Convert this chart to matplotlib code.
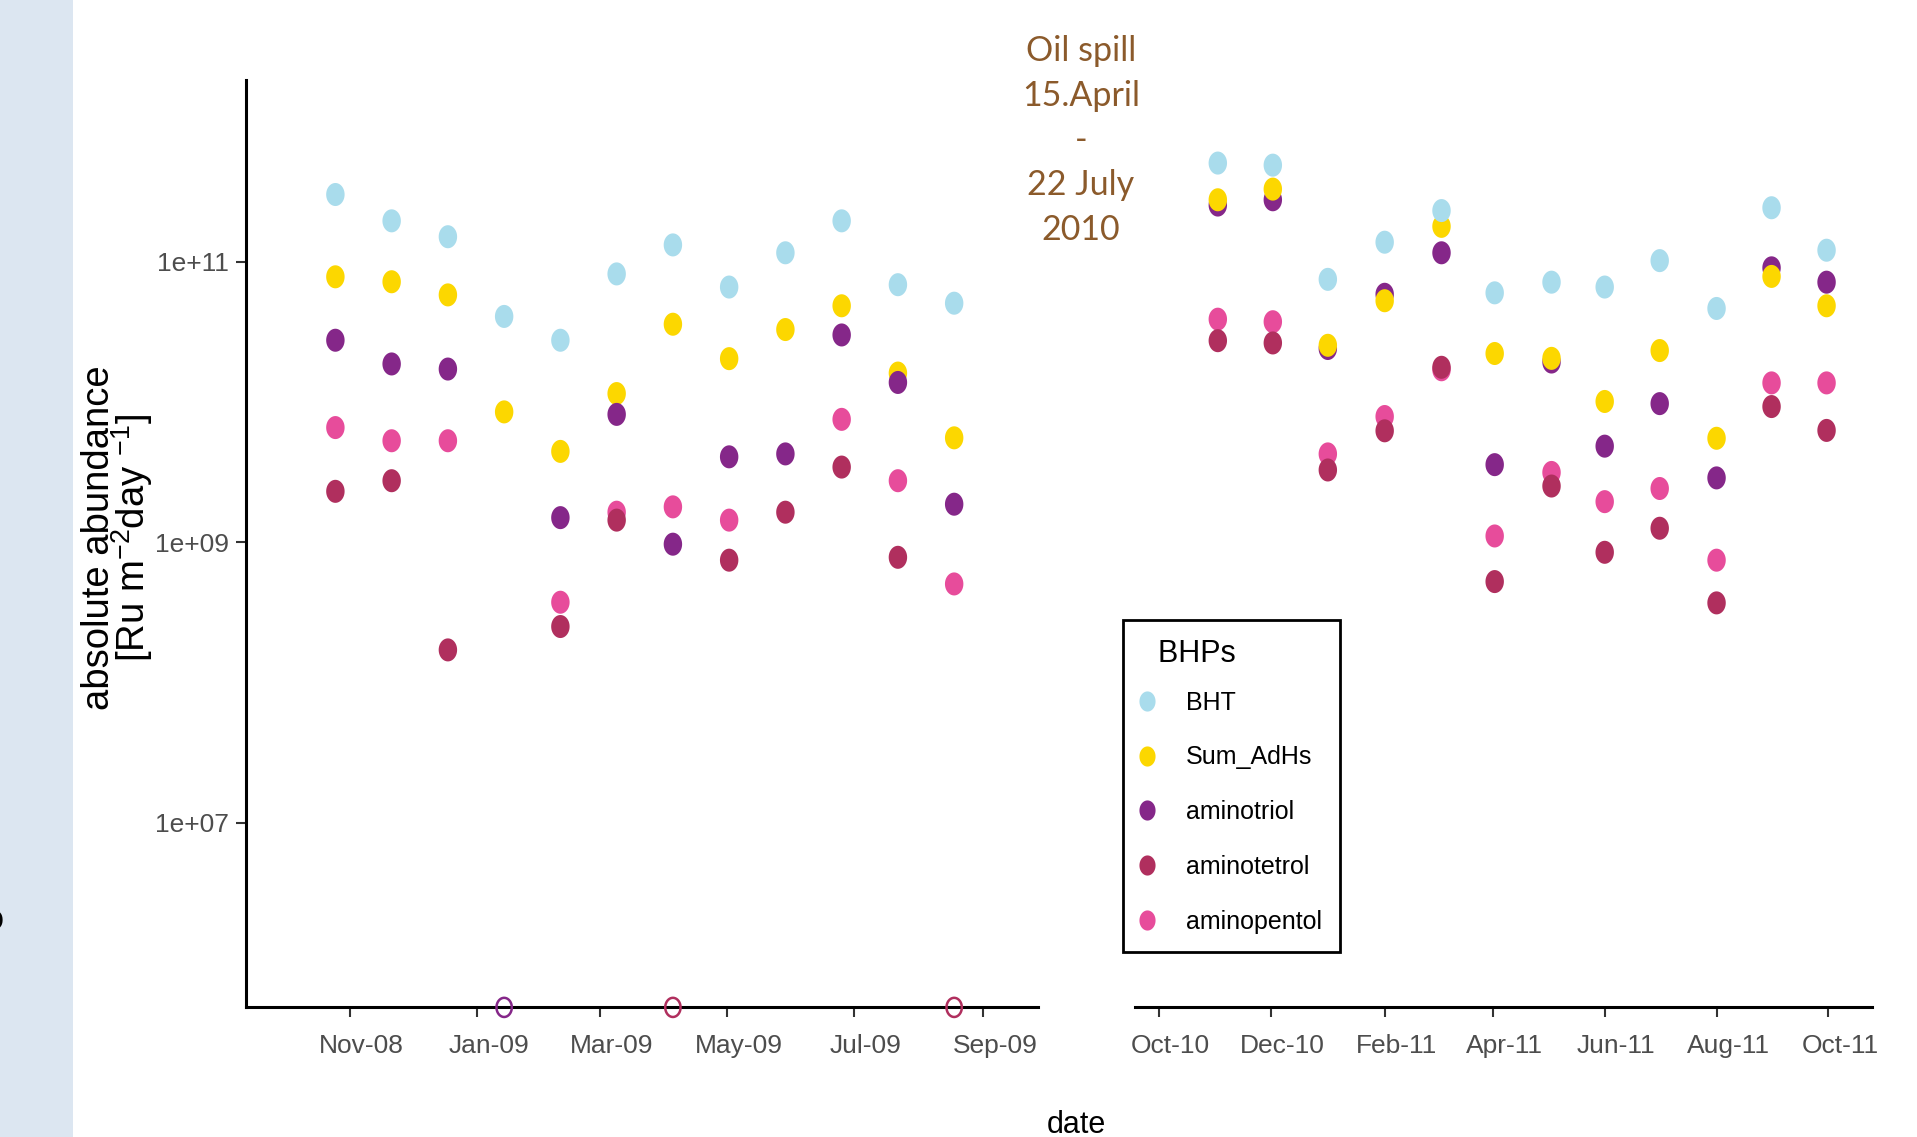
import numpy as np
import matplotlib
matplotlib.use("Agg")
import matplotlib.pyplot as plt
import matplotlib.dates as mdates
import matplotlib.transforms as mtransforms
from matplotlib.path import Path
from matplotlib.lines import Line2D
from matplotlib.patches import Rectangle
from matplotlib.ticker import FixedLocator, FixedFormatter, NullLocator
import datetime as dt

# ---------------- data ----------------
series = ["BHT", "Sum_AdHs", "aminotriol", "aminotetrol", "aminopentol"]
series_colors = ["#a9dcec", "#fcd700", "#852789", "#b02f5e", "#e74c9b"]

dates_0809 = ["2008-10-25", "2008-11-21", "2008-12-18", "2009-01-14", "2009-02-10", "2009-03-09",
              "2009-04-05", "2009-05-02", "2009-05-29", "2009-06-25", "2009-07-22", "2009-08-18"]
bht_0809 = [3.02e11, 1.96e11, 1.51e11, 4.08e10, 2.76e10, 8.20e10, 1.32e11, 6.61e10, 1.16e11, 1.96e11, 6.87e10, 5.07e10]
adhs_0809 = [7.82e10, 7.21e10, 5.81e10, 8.51e9, 4.45e9, 1.15e10, 3.59e10, 2.04e10, 3.29e10, 4.86e10, 1.61e10, 5.56e9]
triol_0809 = [2.76e10, 1.87e10, 1.72e10, 0, 1.50e9, 8.17e9, 9.70e8, 4.07e9, 4.27e9, 3.01e10, 1.38e10, 1.87e9]
tetrol_0809 = [2.31e9, 2.75e9, 1.71e8, np.nan, 2.51e8, 1.44e9, 0, 7.46e8, 1.64e9, 3.44e9, 7.82e8, 0]
pentol_0809 = [6.58e9, 5.30e9, 5.30e9, np.nan, 3.74e8, 1.64e9, 1.79e9, 1.44e9, np.nan, 7.53e9, 2.75e9, 5.05e8]

dates_1011 = ["2010-11-02", "2010-12-02", "2011-01-01", "2011-02-01", "2011-03-04", "2011-04-02",
              "2011-05-03", "2011-06-01", "2011-07-01", "2011-08-01", "2011-08-31", "2011-09-30"]
bht_1011 = [5.06e11, 4.89e11, 7.50e10, 1.38e11, 2.32e11, 6.01e10, 7.16e10, 6.61e10, 1.02e11, 4.65e10, 2.43e11, 1.21e11]
adhs_1011 = [2.77e11, 3.30e11, 2.54e10, 5.28e10, 1.79e11, 2.22e10, 2.05e10, 1.01e10, 2.33e10, 5.52e9, 7.87e10, 4.86e10]
triol_1011 = [2.54e11, 2.77e11, 2.41e10, 5.87e10, 1.16e11, 3.58e9, 1.93e10, 4.85e9, 9.75e9, 2.88e9, 9.06e10, 7.16e10]
tetrol_1011 = [2.74e10, 2.64e10, 3.28e9, 6.24e9, 1.77e10, 5.25e8, 2.52e9, 8.49e8, 1.26e9, 3.70e8, 9.29e9, 6.28e9]
pentol_1011 = [3.90e10, 3.74e10, 4.27e9, 7.89e9, 1.70e10, 1.11e9, 3.15e9, 1.95e9, 2.42e9, 7.46e8, 1.37e10, 1.37e10]

xticks_0809 = ["2008-11-01", "2009-01-01", "2009-03-01", "2009-05-01", "2009-07-01", "2009-09-01"]
xticks_1011 = ["2010-10-01", "2010-12-01", "2011-02-01", "2011-04-01", "2011-06-01", "2011-08-01", "2011-10-01"]
xlim_0809 = ["2008-09-12", "2009-09-27"]
xlim_1011 = ["2010-09-18", "2011-10-25"]
yticks = [1e7, 1e9, 1e11]
ytick_labels = ["1e+07", "1e+09", "1e+11"]
ylim = (10 ** 5.684, 10 ** 12.30)

annot_lines = ["Oil spill", "15.April", "-", "22 July", "2010"]
legend_title = "  BHPs"
xlabel = "date"
ylabel = "absolute abundance\n[Ru m$^{\\mathregular{-2}}$day $^{\\mathregular{-1}}$]"

# ---------------- style ----------------
plt.rcParams["font.family"] = ["Liberation Sans", "DejaVu Sans"]
plt.rcParams["mathtext.fontset"] = "custom"
plt.rcParams["mathtext.rm"] = "Liberation Sans"
plt.rcParams["mathtext.it"] = "Liberation Sans:italic"
plt.rcParams["mathtext.bf"] = "Liberation Sans:bold"

W, H = 1917, 1137
fig = plt.figure(figsize=(W / 100, H / 100), dpi=100)
fig.patch.set_facecolor("white")

# left light-blue strip
fig.patches.append(Rectangle((0, 0), 73 / W, 1, transform=fig.transFigure,
                             facecolor="#dce6f1", edgecolor="none", zorder=0))
fig.text(4 / W, 1 - 920 / H, "o", ha="right", va="center", fontsize=26,
         fontweight="bold", family="Liberation Sans", color="black")

th = np.linspace(0, 2 * np.pi, 80)
ellipse = Path(np.column_stack([0.80 * np.cos(th), np.sin(th)]))

def to_dates(lst):
    return [dt.datetime.strptime(s, "%Y-%m-%d") for s in lst]

bottom = (1137 - 1007.4) / H
height = (1007.4 - 79.5) / H
ax1 = fig.add_axes([245.8 / W, bottom, (1037.5 - 245.8) / W, height])
ax2 = fig.add_axes([1135.3 / W, bottom, (1872.4 - 1135.3) / W, height])

panels = [
    (ax1, dates_0809, [bht_0809, adhs_0809, triol_0809, tetrol_0809, pentol_0809],
     xticks_0809, xlim_0809, [1, 2, 3, 5, 4]),
    (ax2, dates_1011, [bht_1011, adhs_1011, triol_1011, tetrol_1011, pentol_1011],
     xticks_1011, xlim_1011, [5, 4, 3, 2, 1]),
]

label_shift = mtransforms.ScaledTranslation(11.5 / 100, 0, fig.dpi_scale_trans)

for ax, dts, vals, xt, xl, zorders in panels:
    ax.set_yscale("log")
    ax.set_ylim(*ylim)
    ax.set_xlim(*to_dates(xl))
    x = np.array(to_dates(dts))
    for name, col, v, z in zip(series, series_colors, vals, zorders):
        v = np.array(v, dtype=float)
        pos = v > 0
        ax.scatter(x[pos], v[pos], marker=ellipse, s=275, color=col,
                   edgecolors="none", zorder=3 + z * 0.1)
        zero = v == 0
        if zero.any():
            ax.scatter(x[zero], np.full(zero.sum(), ax.get_ylim()[0]), marker=ellipse, s=190,
                       facecolors="none", edgecolors=col, linewidths=1.8,
                       clip_on=False, zorder=6)
    ax.xaxis.set_major_locator(FixedLocator(mdates.date2num(to_dates(xt))))
    ax.xaxis.set_major_formatter(mdates.DateFormatter("%b-%y"))
    ax.xaxis.set_minor_locator(NullLocator())
    for sp in ["top", "right"]:
        ax.spines[sp].set_visible(False)
    ax.spines["bottom"].set_linewidth(2.2)
    ax.spines["left"].set_linewidth(2.2)
    ax.tick_params(axis="both", which="major", length=7, width=1.5, color="#333333",
                   labelcolor="#4d4d4d", labelsize=19)
    ax.tick_params(axis="x", pad=12)
    ax.tick_params(axis="y", pad=5)
    ax.patch.set_alpha(0)
    for lbl in ax.get_xticklabels():
        lbl.set_transform(lbl.get_transform() + label_shift)

ax1.yaxis.set_major_locator(FixedLocator(yticks))
ax1.yaxis.set_major_formatter(FixedFormatter(ytick_labels))
ax1.yaxis.set_minor_locator(NullLocator())
ax2.spines["left"].set_visible(False)
ax2.yaxis.set_minor_locator(NullLocator())
ax2.tick_params(axis="y", which="both", left=False, labelleft=False)

# axis titles
fig.text(118 / W, 1 - 538 / H, ylabel, rotation=90, ha="center", va="center",
         multialignment="center", fontsize=27.5, family="Liberation Sans", color="black",
         linespacing=0.8)
fig.text(1076 / W, 1 - 1110 / H, xlabel, ha="center", va="top", fontsize=22,
         family="Liberation Sans", color="black")

# annotation
baselines = [61, 106, 150, 195, 240]
for txt, b in zip(annot_lines, baselines):
    fig.text(1081 / W, 1 - b / H, txt, ha="center", va="baseline", fontsize=24.5,
             family="Lato", color="#8b5a2b")

# legend
handles = [Line2D([], [], linestyle="none", marker=ellipse, markersize=14.5,
                  markerfacecolor=c, markeredgecolor="none") for c in series_colors]
leg = fig.legend(handles, series, loc="upper left",
                 bbox_to_anchor=(1122.7 / W, 1 - 620 / H), bbox_transform=fig.transFigure,
                 frameon=True, fancybox=False, edgecolor="black", framealpha=1,
                 title=legend_title,
                 title_fontproperties={"family": "Liberation Sans", "size": 22},
                 prop={"family": "Liberation Sans", "size": 18},
                 labelspacing=1.23, handlelength=0.44, handletextpad=1.35,
                 borderpad=0.74, borderaxespad=0, alignment="left")
leg.get_frame().set_linewidth(2)
try:
    leg._legend_box.sep = 16.0
except Exception:
    pass

fig.savefig("out.png", dpi=100)
